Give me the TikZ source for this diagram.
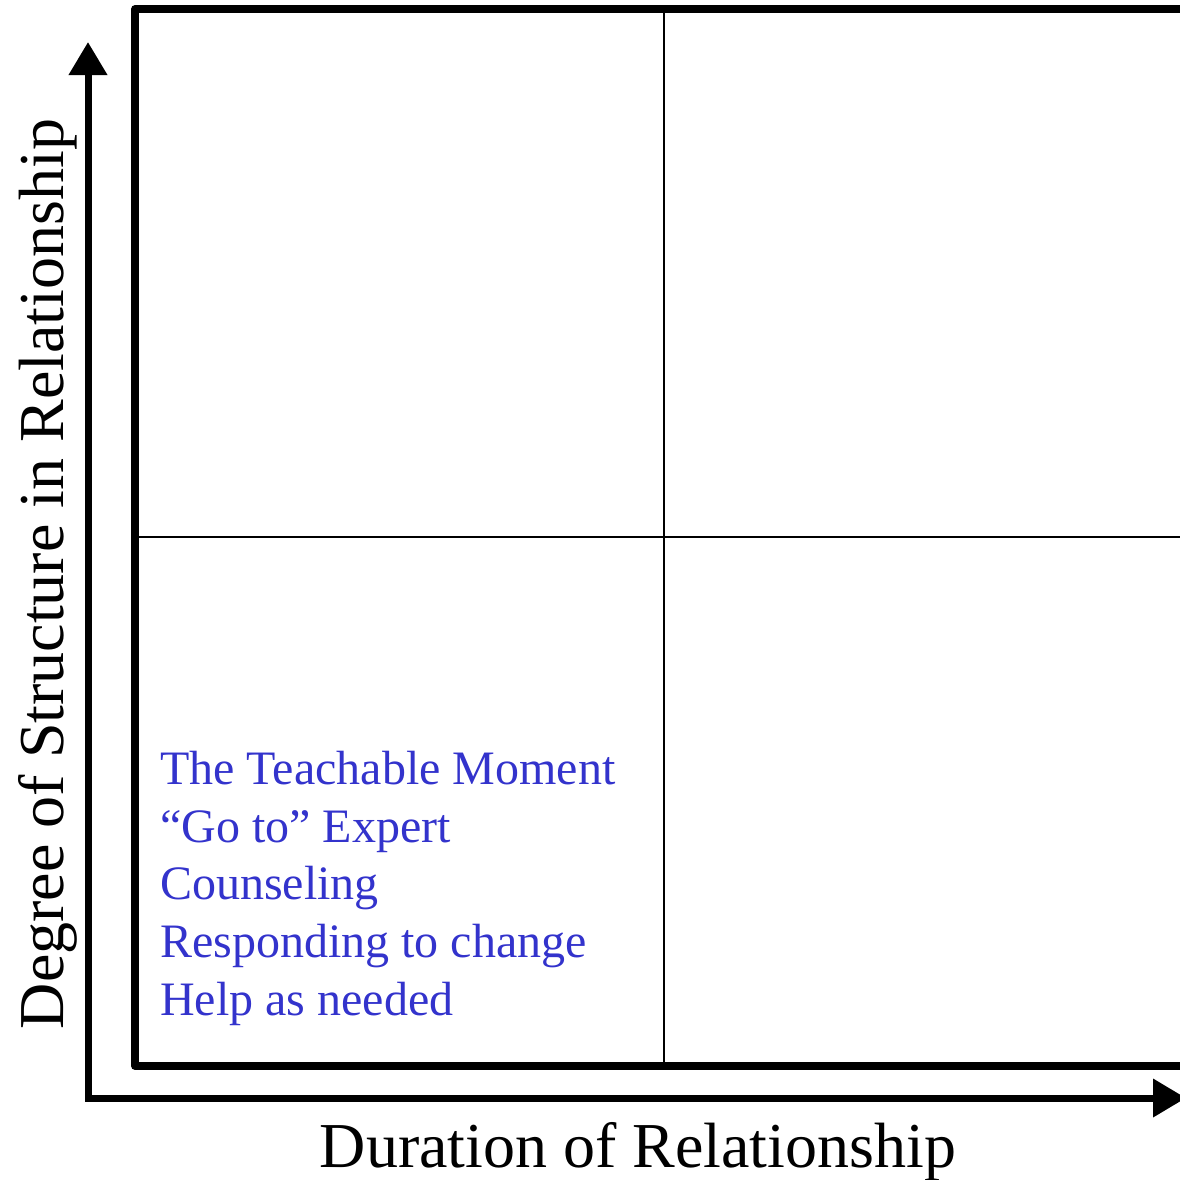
\documentclass[tikz,border=0pt]{standalone}
\usepackage{fontspec}
\setmainfont{Liberation Serif}
\usetikzlibrary{positioning,arrows.meta}
\definecolor{myblue}{RGB}{51,51,204}

\begin{document}
\begin{tikzpicture}[x=1pt,y=-1pt,
frame/.style={line width=7.5pt,line join=round},
grid/.style={line width=1.3pt},
axis/.style={line width=7pt,{Triangle[length=33pt,width=37pt]}-{Triangle[length=33pt,width=37pt]}},
label/.style={font=\fontsize{64}{77}\selectfont,inner sep=0pt},
item/.style={font=\fontsize{48}{57.6}\selectfont,text=myblue,align=left,inner sep=0pt}]

\useasboundingbox (0,0) rectangle (1180,1179);

% corners of the chart
\coordinate (tl) at (135,9);
\coordinate (bl) at (135,1066);
\coordinate (tr) at (1195,9);
\coordinate (br) at (1195,1066);
\coordinate (midtop) at (664,9);
\coordinate (midbot) at (664,1066);
\coordinate (midleft) at (135,537);
\coordinate (midright) at (1195,537);

% quadrants
\draw[grid] (midtop) -- (midbot);
\draw[grid] (midleft) -- (midright);
\draw[frame] (tr) -- (tl) -- (bl) -- (br);

% axes
\coordinate (ytip) at (88,42);
\coordinate (origin) at (88,1098);
\coordinate (xtip) at (1186,1098);
\draw[axis] (ytip) -- (origin) -- (xtip);

% labels (base of a multi-line node = its last line)
\node[label,anchor=base] (xlabel) at (638,1167) {Duration of Relationship};
\node[label,anchor=base,rotate=90] (ylabel) at (63,574) {Degree of Structure in Relationship};
\node[item,anchor=base west] (roles) at (160,1015) {The Teachable Moment\\
“Go to” Expert\\
Counseling\\
Responding to change\\
Help as needed};

\end{tikzpicture}
\end{document}
